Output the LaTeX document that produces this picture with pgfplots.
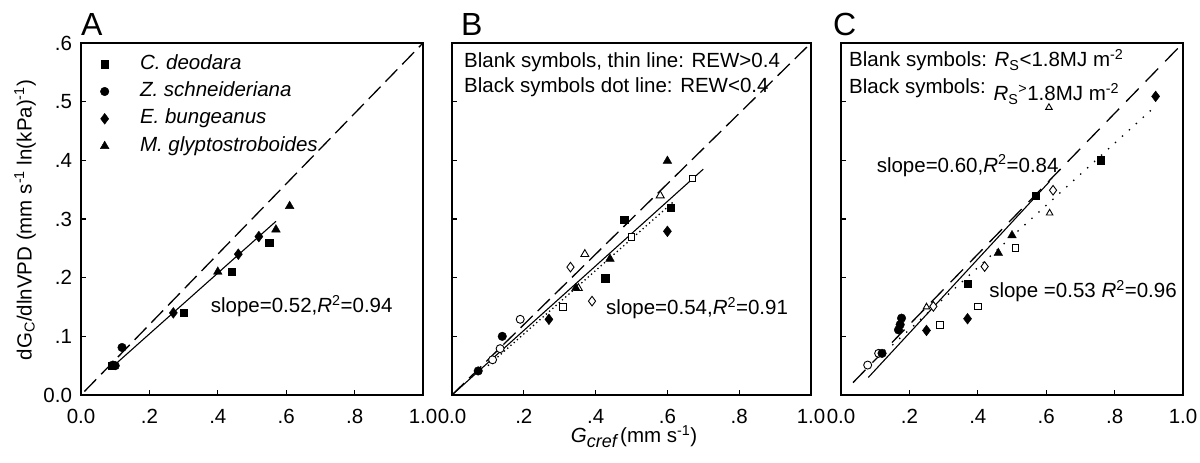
\documentclass[border=0pt]{standalone}
\usepackage{fontspec}
\setmainfont{Liberation Sans}
\usepackage{pgfplots}
\pgfplotsset{compat=1.18}
\newcommand{\bodyfont}{\fontsize{20.5}{24}\selectfont}
\pgfplotsset{
  panel/.style={
    scale only axis, anchor=south west, height=352pt,
    xmin=0, xmax=1, ymin=0, ymax=0.6,
    xtick={0,0.2,0.4,0.6,0.8,1}, ytick={0,0.1,0.2,0.3,0.4,0.5,0.6},
    xticklabels={0.0,.2,.4,.6,.8,1.0},
    xtick pos=bottom, ytick pos=left, tick align=inside,
    major tick length=5pt,
    every tick/.style={black, line width=1.1pt},
    axis line style={black, line width=1.4pt},
    tick label style={font=\bodyfont},
    xticklabel style={yshift=-7pt},
    yticklabel style={xshift=-2pt},
    clip=false,
  },
  fsq/.style={only marks, mark=square*, mark size=3.7pt, mark options={fill=black, draw=black}},
  fci/.style={only marks, mark=*, mark size=4.3pt, mark options={fill=black, draw=black}},
  fdi/.style={only marks, mark=diamond*, mark size=5.4pt, mark options={fill=black, draw=black}},
  ftr/.style={only marks, mark=triangle*, mark size=5pt, mark options={fill=black, draw=black}},
  osq/.style={only marks, mark=square*, mark size=3.4pt, mark options={fill=white, draw=black, line width=0.9pt}},
  oci/.style={only marks, mark=*, mark size=4pt, mark options={fill=white, draw=black, line width=0.9pt}},
  odi/.style={only marks, mark=diamond*, mark size=4.8pt, mark options={fill=white, draw=black, line width=0.9pt}},
  otr/.style={only marks, mark=triangle*, mark size=4.6pt, mark options={fill=white, draw=black, line width=0.9pt}},
  refline/.style={black, line width=1.3pt, dash pattern=on 17pt off 7pt},
  regline/.style={black, line width=1.1pt},
  dotline/.style={black, line width=1.3pt, dash pattern=on 1.3pt off 3pt},
}
\begin{document}
\bodyfont
\begin{tikzpicture}[every node/.style={font=\bodyfont}]
% ---------------- Panel A ----------------
\begin{axis}[panel, at={(81pt,68pt)}, width=342pt,
  yticklabels={0.0,.1,.2,.3,.4,.5,.6},
  legend image code/.code={\draw[#1] plot coordinates {(0pt,0pt)};},
  legend style={at={(axis description cs:0.056,0.9716)}, anchor=north west,
    draw=none, fill=none, inner sep=0pt, row sep=5.3pt,
    /tikz/every odd column/.append style={column sep=30pt},
    nodes={inner sep=1pt, text height=15pt, text depth=5pt, font=\bodyfont\itshape}},
  legend cell align=left]
\addplot[fsq] coordinates {(0.30,0.14) (0.44,0.21) (0.55,0.26) (0.09,0.05)};
\addlegendentry{C. deodara}
\addplot[fci] coordinates {(0.12,0.081) (0.093,0.051) (0.10,0.050)};
\addlegendentry{Z. schneideriana}
\addplot[fdi] coordinates {(0.27,0.14) (0.46,0.24) (0.52,0.27)};
\addlegendentry{E. bungeanus}
\addplot[ftr] coordinates {(0.40,0.21) (0.57,0.282) (0.61,0.322)};
\addlegendentry{M. glyptostroboides}
\addplot[refline, forget plot] coordinates {(0.01,0.006) (1,0.6)};
\addplot[regline, forget plot] coordinates {(0.09,0.047) (0.57,0.296)};
\node[anchor=base west, inner sep=0pt] at (axis cs:0.379,0.140) {slope=0.52,\textit{R}\textsuperscript{2}=0.94};
\end{axis}
% ---------------- Panel B ----------------
\begin{axis}[panel, at={(452pt,68pt)}, width=359pt, yticklabels={}]
\addplot[refline] coordinates {(0,0) (1,0.6)};
\addplot[regline] coordinates {(0,0.0) (0.70,0.385)};
\addplot[dotline] coordinates {(0.10,0.050) (0.62,0.331)};
\addplot[oci] coordinates {(0.19,0.129) (0.134,0.079) (0.113,0.060)};
\addplot[fci] coordinates {(0.14,0.100) (0.073,0.041)};
\addplot[otr] coordinates {(0.58,0.340) (0.37,0.240) (0.352,0.182)};
\addplot[ftr] coordinates {(0.60,0.399) (0.44,0.232) (0.345,0.182)};
\addplot[osq] coordinates {(0.67,0.369) (0.50,0.269) (0.31,0.150)};
\addplot[fsq] coordinates {(0.61,0.319) (0.48,0.299) (0.427,0.199)};
\addplot[odi] coordinates {(0.33,0.218) (0.39,0.160)};
\addplot[fdi] coordinates {(0.60,0.279) (0.27,0.129)};
\node[anchor=base west, inner sep=0pt] at (axis cs:0.429,0.137) {slope=0.54,\textit{R}\textsuperscript{2}=0.91};
\end{axis}
% ---------------- Panel C ----------------
\begin{axis}[panel, at={(841pt,68pt)}, width=342pt, yticklabels={}]
\addplot[black, line width=1.3pt, dash pattern=on 18pt off 10pt] coordinates {(0.035,0.021) (1,0.6)};
\addplot[regline] coordinates {(0.08,0.030) (0.61,0.364)};
\addplot[black, line width=1.3pt, dash pattern=on 1.4pt off 8pt] coordinates {(0.15,0.085) (0.915,0.490)};
\addplot[oci] coordinates {(0.078,0.051) (0.11,0.071)};
\addplot[fci] coordinates {(0.12,0.071) (0.168,0.111) (0.173,0.120) (0.177,0.131)};
\addplot[otr, mark size=3.8pt] coordinates {(0.25,0.150) (0.61,0.310) (0.608,0.490)};
\addplot[odi] coordinates {(0.27,0.151) (0.42,0.219) (0.62,0.349)};
\addplot[osq] coordinates {(0.29,0.120) (0.40,0.151) (0.51,0.250)};
\addplot[fdi] coordinates {(0.25,0.110) (0.37,0.130) (0.92,0.509)};
\addplot[fsq] coordinates {(0.37,0.190) (0.57,0.340) (0.76,0.400)};
\addplot[ftr] coordinates {(0.46,0.242) (0.50,0.272)};
\node[anchor=base west, inner sep=0pt] at (axis cs:0.104,0.380) {slope=0.60,\textit{R}\textsuperscript{2}=0.84};
\node[anchor=base west, inner sep=0pt] at (axis cs:0.433,0.166) {slope =0.53 \textit{R}\textsuperscript{2}=0.96};
\end{axis}
% ---------------- labels ----------------
\node[anchor=base west, inner sep=0pt, font=\fontsize{32}{36}\selectfont] at (81pt,427pt) {A};
\node[anchor=base west, inner sep=0pt, font=\fontsize{32}{36}\selectfont] at (461pt,427pt) {B};
\node[anchor=base west, inner sep=0pt, font=\fontsize{32}{36}\selectfont] at (833pt,427pt) {C};
\node[anchor=base west, inner sep=0pt] at (464pt,395pt) {Blank symbols, thin line: REW>0.4};
\node[anchor=base west, inner sep=0pt] at (464pt,370pt) {Black symbols dot line: REW<0.4};
\node[anchor=base west, inner sep=0pt] at (849pt,396pt) {Blank symbols: \textit{R}\textsubscript{S}<1.8MJ m\textsuperscript{-2}};
\node[anchor=base west, inner sep=0pt] at (849pt,369pt) {Black symbols: \raisebox{-7pt}{\textit{R}\textsubscript{S}\textsuperscript{>}1.8MJ m\textsuperscript{-2}}};
\node[rotate=90, inner sep=0pt] at (25pt,243pt) {dG\textsubscript{C}/dlnVPD (mm s\textsuperscript{-1} ln(kPa)\textsuperscript{-1})};
\node[anchor=base, inner sep=0pt] at (634pt,20pt) {\textit{G\raisebox{-5pt}{\fontsize{18}{20}\selectfont cref}}\,(mm s\textsuperscript{-1})};
\pgfresetboundingbox
\path[use as bounding box] (0pt,0pt) rectangle (1200pt,463pt);
\end{tikzpicture}
\end{document}
